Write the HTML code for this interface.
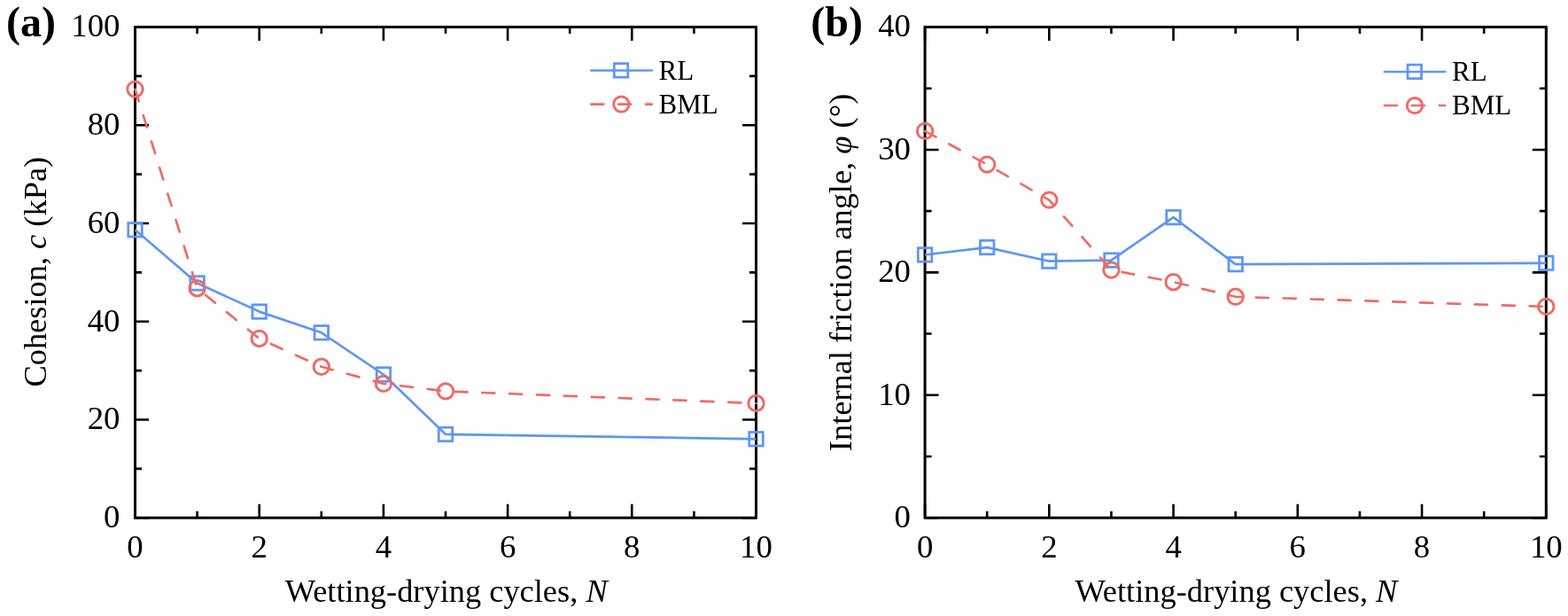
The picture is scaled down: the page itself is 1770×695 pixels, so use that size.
<!DOCTYPE html>
<html><head><meta charset="utf-8"><title>Figure</title>
<style>html,body{margin:0;padding:0;background:#fff;}svg{display:block;}</style>
</head><body>
<svg width="1770" height="695" viewBox="0 0 1770 695" font-family="'Liberation Serif', 'Times New Roman', serif">
<rect width="1770" height="695" fill="#fff"/>
<g>
<path d="M152.5 584.2v-15.5M152.5 30.5v15.5M222.6 584.2v-7.5M222.6 30.5v7.5M292.7 584.2v-15.5M292.7 30.5v15.5M362.8 584.2v-7.5M362.8 30.5v7.5M432.9 584.2v-15.5M432.9 30.5v15.5M503 584.2v-7.5M503 30.5v7.5M573.1 584.2v-15.5M573.1 30.5v15.5M643.2 584.2v-7.5M643.2 30.5v7.5M713.3 584.2v-15.5M713.3 30.5v15.5M783.4 584.2v-7.5M783.4 30.5v7.5M853.5 584.2v-15.5M853.5 30.5v15.5M152.5 584.2h15.5M853.5 584.2h-15.5M152.5 528.83h7.5M853.5 528.83h-7.5M152.5 473.46h15.5M853.5 473.46h-15.5M152.5 418.09h7.5M853.5 418.09h-7.5M152.5 362.72h15.5M853.5 362.72h-15.5M152.5 307.35h7.5M853.5 307.35h-7.5M152.5 251.98h15.5M853.5 251.98h-15.5M152.5 196.61h7.5M853.5 196.61h-7.5M152.5 141.24h15.5M853.5 141.24h-15.5M152.5 85.87h7.5M853.5 85.87h-7.5M152.5 30.5h15.5M853.5 30.5h-15.5" stroke="#000" stroke-width="2.6" fill="none"/>
<rect x="152.5" y="30.5" width="701" height="553.7" fill="none" stroke="#000" stroke-width="3.0" stroke-linejoin="miter"/>
<text x="152.5" y="629" font-size="36.8" text-anchor="middle">0</text>
<text x="292.7" y="629" font-size="36.8" text-anchor="middle">2</text>
<text x="432.9" y="629" font-size="36.8" text-anchor="middle">4</text>
<text x="573.1" y="629" font-size="36.8" text-anchor="middle">6</text>
<text x="713.3" y="629" font-size="36.8" text-anchor="middle">8</text>
<text x="853.5" y="629" font-size="36.8" text-anchor="middle">10</text>
<text x="135.5" y="595.1" font-size="36.8" text-anchor="end">0</text>
<text x="135.5" y="484.36" font-size="36.8" text-anchor="end">20</text>
<text x="135.5" y="373.62" font-size="36.8" text-anchor="end">40</text>
<text x="135.5" y="262.88" font-size="36.8" text-anchor="end">60</text>
<text x="135.5" y="152.14" font-size="36.8" text-anchor="end">80</text>
<text x="135.5" y="41.4" font-size="36.8" text-anchor="end">100</text>
<text x="503.7" y="678.7" font-size="36.4" text-anchor="middle">Wetting-drying cycles, <tspan font-style="italic">N</tspan></text>
<text transform="translate(52 306.7) rotate(-90)" font-size="36.4" text-anchor="middle">Cohesion, <tspan font-style="italic">c</tspan> (kPa)</text>
<text x="7.1" y="40.8" font-size="48" font-weight="bold">(a)</text>
<polyline points="152.5,259.3 222.6,319.5 292.7,351.6 362.8,375.3 432.9,422.5 503,490 853.5,495.3" fill="none" stroke="#5E96F5" stroke-width="2.7" stroke-linejoin="round"/>
<rect x="144.75" y="251.55" width="15.5" height="15.5" fill="none" stroke="#5E96F5" stroke-width="2.76"/>
<rect x="214.85" y="311.75" width="15.5" height="15.5" fill="none" stroke="#5E96F5" stroke-width="2.76"/>
<rect x="284.95" y="343.85" width="15.5" height="15.5" fill="none" stroke="#5E96F5" stroke-width="2.76"/>
<rect x="355.05" y="367.55" width="15.5" height="15.5" fill="none" stroke="#5E96F5" stroke-width="2.76"/>
<rect x="425.15" y="414.75" width="15.5" height="15.5" fill="none" stroke="#5E96F5" stroke-width="2.76"/>
<rect x="495.25" y="482.25" width="15.5" height="15.5" fill="none" stroke="#5E96F5" stroke-width="2.76"/>
<rect x="845.75" y="487.55" width="15.5" height="15.5" fill="none" stroke="#5E96F5" stroke-width="2.76"/>
<polyline points="152.5,100.6 222.6,325.2 292.7,382 362.8,413.8 432.9,432.9 503,441.4 853.5,455" fill="none" stroke="#EF6B66" stroke-width="2.7" stroke-dasharray="14.1 16.8" stroke-linecap="round" stroke-linejoin="round"/>
<circle cx="152.5" cy="100.6" r="8.7" fill="none" stroke="#EF6B66" stroke-width="3.0"/>
<circle cx="222.6" cy="325.2" r="8.7" fill="none" stroke="#EF6B66" stroke-width="3.0"/>
<circle cx="292.7" cy="382" r="8.7" fill="none" stroke="#EF6B66" stroke-width="3.0"/>
<circle cx="362.8" cy="413.8" r="8.7" fill="none" stroke="#EF6B66" stroke-width="3.0"/>
<circle cx="432.9" cy="432.9" r="8.7" fill="none" stroke="#EF6B66" stroke-width="3.0"/>
<circle cx="503" cy="441.4" r="8.7" fill="none" stroke="#EF6B66" stroke-width="3.0"/>
<circle cx="853.5" cy="455" r="8.7" fill="none" stroke="#EF6B66" stroke-width="3.0"/>
<path d="M667.25 79.5H735.75" stroke="#5E96F5" stroke-width="2.7" stroke-linecap="round"/>
<rect x="693.3" y="71.65" width="15.5" height="15.5" fill="none" stroke="#5E96F5" stroke-width="2.76"/>
<path d="M667.25 117.6H735.75" stroke="#EF6B66" stroke-width="2.7" stroke-linecap="round" stroke-dasharray="14.1 16.8"/>
<circle cx="701.4" cy="117.6" r="8.7" fill="none" stroke="#EF6B66" stroke-width="3.0"/>
<text x="743.5" y="89.8" font-size="31">RL</text>
<text x="743.5" y="128" font-size="31">BML</text>
</g>
<g>
<path d="M1044.1 584.2v-15.5M1044.1 30.5v15.5M1114.22 584.2v-7.5M1114.22 30.5v7.5M1184.34 584.2v-15.5M1184.34 30.5v15.5M1254.46 584.2v-7.5M1254.46 30.5v7.5M1324.58 584.2v-15.5M1324.58 30.5v15.5M1394.7 584.2v-7.5M1394.7 30.5v7.5M1464.82 584.2v-15.5M1464.82 30.5v15.5M1534.94 584.2v-7.5M1534.94 30.5v7.5M1605.06 584.2v-15.5M1605.06 30.5v15.5M1675.18 584.2v-7.5M1675.18 30.5v7.5M1745.3 584.2v-15.5M1745.3 30.5v15.5M1044.1 584.2h15.5M1745.3 584.2h-15.5M1044.1 514.99h7.5M1745.3 514.99h-7.5M1044.1 445.78h15.5M1745.3 445.78h-15.5M1044.1 376.56h7.5M1745.3 376.56h-7.5M1044.1 307.35h15.5M1745.3 307.35h-15.5M1044.1 238.14h7.5M1745.3 238.14h-7.5M1044.1 168.93h15.5M1745.3 168.93h-15.5M1044.1 99.71h7.5M1745.3 99.71h-7.5M1044.1 30.5h15.5M1745.3 30.5h-15.5" stroke="#000" stroke-width="2.6" fill="none"/>
<rect x="1044.1" y="30.5" width="701.2" height="553.7" fill="none" stroke="#000" stroke-width="3.0" stroke-linejoin="miter"/>
<text x="1044.1" y="629" font-size="36.8" text-anchor="middle">0</text>
<text x="1184.34" y="629" font-size="36.8" text-anchor="middle">2</text>
<text x="1324.58" y="629" font-size="36.8" text-anchor="middle">4</text>
<text x="1464.82" y="629" font-size="36.8" text-anchor="middle">6</text>
<text x="1605.06" y="629" font-size="36.8" text-anchor="middle">8</text>
<text x="1745.3" y="629" font-size="36.8" text-anchor="middle">10</text>
<text x="1028" y="595.1" font-size="36.8" text-anchor="end">0</text>
<text x="1028" y="456.68" font-size="36.8" text-anchor="end">10</text>
<text x="1028" y="318.25" font-size="36.8" text-anchor="end">20</text>
<text x="1028" y="179.83" font-size="36.8" text-anchor="end">30</text>
<text x="1028" y="41.4" font-size="36.8" text-anchor="end">40</text>
<text x="1395.4" y="678.7" font-size="36.4" text-anchor="middle">Wetting-drying cycles, <tspan font-style="italic">N</tspan></text>
<text transform="translate(960.5 307.4) rotate(-90)" font-size="36.4" text-anchor="middle">Internal friction angle, <tspan font-style="italic">φ</tspan> (°)</text>
<text x="915.3" y="40.8" font-size="48" font-weight="bold">(b)</text>
<polyline points="1044.1,287.5 1114.22,279.1 1184.34,294.7 1254.46,293.6 1324.58,245.2 1394.7,298.2 1745.3,296.8" fill="none" stroke="#5E96F5" stroke-width="2.7" stroke-linejoin="round"/>
<rect x="1036.35" y="279.75" width="15.5" height="15.5" fill="none" stroke="#5E96F5" stroke-width="2.76"/>
<rect x="1106.47" y="271.35" width="15.5" height="15.5" fill="none" stroke="#5E96F5" stroke-width="2.76"/>
<rect x="1176.59" y="286.95" width="15.5" height="15.5" fill="none" stroke="#5E96F5" stroke-width="2.76"/>
<rect x="1246.71" y="285.85" width="15.5" height="15.5" fill="none" stroke="#5E96F5" stroke-width="2.76"/>
<rect x="1316.83" y="237.45" width="15.5" height="15.5" fill="none" stroke="#5E96F5" stroke-width="2.76"/>
<rect x="1386.95" y="290.45" width="15.5" height="15.5" fill="none" stroke="#5E96F5" stroke-width="2.76"/>
<rect x="1737.55" y="289.05" width="15.5" height="15.5" fill="none" stroke="#5E96F5" stroke-width="2.76"/>
<polyline points="1044.1,147.9 1114.22,185.6 1184.34,225.6 1254.46,304.6 1324.58,318.2 1394.7,334.8 1745.3,345.9" fill="none" stroke="#EF6B66" stroke-width="2.7" stroke-dasharray="14.1 16.8" stroke-linecap="round" stroke-linejoin="round"/>
<circle cx="1044.1" cy="147.9" r="8.7" fill="none" stroke="#EF6B66" stroke-width="3.0"/>
<circle cx="1114.22" cy="185.6" r="8.7" fill="none" stroke="#EF6B66" stroke-width="3.0"/>
<circle cx="1184.34" cy="225.6" r="8.7" fill="none" stroke="#EF6B66" stroke-width="3.0"/>
<circle cx="1254.46" cy="304.6" r="8.7" fill="none" stroke="#EF6B66" stroke-width="3.0"/>
<circle cx="1324.58" cy="318.2" r="8.7" fill="none" stroke="#EF6B66" stroke-width="3.0"/>
<circle cx="1394.7" cy="334.8" r="8.7" fill="none" stroke="#EF6B66" stroke-width="3.0"/>
<circle cx="1745.3" cy="345.9" r="8.7" fill="none" stroke="#EF6B66" stroke-width="3.0"/>
<path d="M1562.85 81H1631.05" stroke="#5E96F5" stroke-width="2.7" stroke-linecap="round"/>
<rect x="1589.05" y="73.1" width="15.5" height="15.5" fill="none" stroke="#5E96F5" stroke-width="2.76"/>
<path d="M1562.85 119H1631.05" stroke="#EF6B66" stroke-width="2.7" stroke-linecap="round" stroke-dasharray="14.1 16.8"/>
<circle cx="1597" cy="119.1" r="8.7" fill="none" stroke="#EF6B66" stroke-width="3.0"/>
<text x="1639.1" y="91.3" font-size="31">RL</text>
<text x="1639.1" y="129" font-size="31">BML</text>
</g>
</svg>
</body></html>
